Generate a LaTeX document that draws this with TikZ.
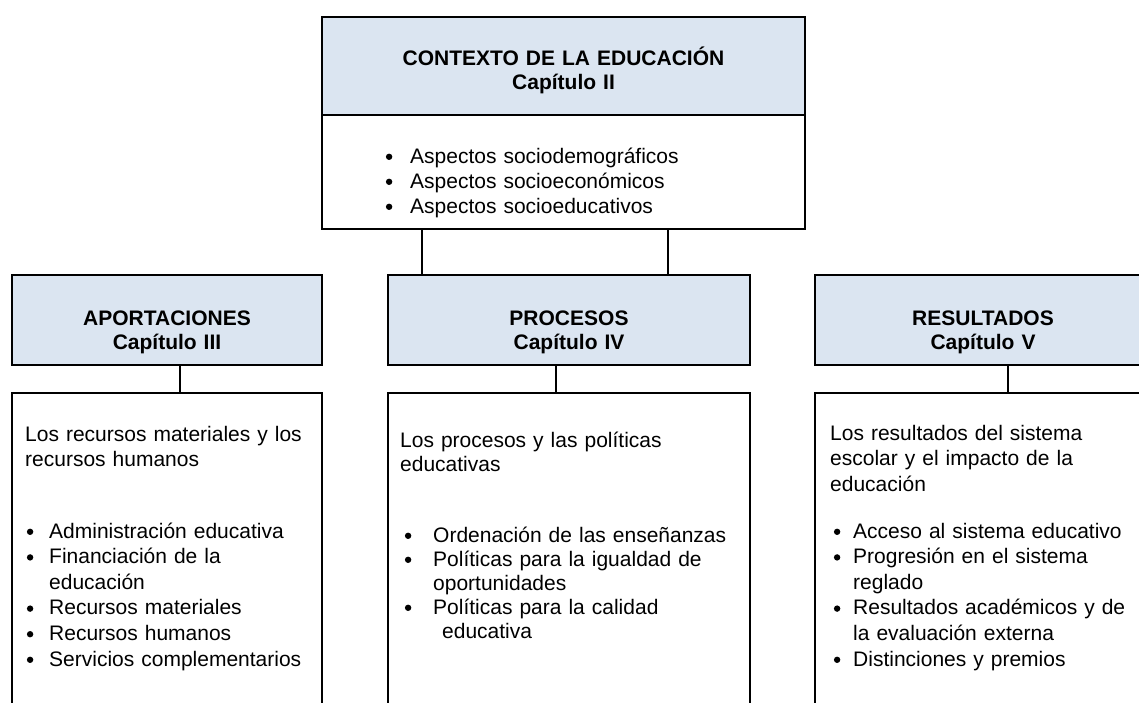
\documentclass[tikz,border=0pt]{standalone}
\usepackage{fontspec}
\setmainfont{Liberation Sans}
\usetikzlibrary{positioning}
\definecolor{hdblue}{HTML}{DBE5F1}
\newcommand{\bit}[2]{\makebox[#1][l]{\hspace{0.4pt}\tikz[baseline]\fill (3.3pt,6.2pt) circle (3.2pt);}#2}

\begin{document}
\begin{tikzpicture}[x=1pt, y=-1pt,
    hd/.style={draw, line width=1.8pt, outer sep=0, fill=hdblue, minimum height=90, anchor=north west},
    bd/.style={draw, line width=1.8pt, outer sep=0, minimum height=400},
    ln/.style={line width=1.2pt},
    ttl/.style={font=\fontsize{21}{24}\selectfont\bfseries, text width=470pt, align=center, inner sep=0, anchor=base},
    txt/.style={font=\fontsize{21}{25.6}\selectfont, text width=360pt, align=left, inner sep=0, anchor=base west}]
  \useasboundingbox (0,0) rectangle (1139,702);
  \clip (0,0) rectangle (1139,702);

  % contexto
  \node[hd, minimum width=483, minimum height=98] (h0) at (322,17) {};
  \node[bd, minimum width=483, minimum height=114, below=0 of h0] (b0) {};
  \node[ttl] (t0) at ([yshift=-48pt]h0.north) {CONTEXTO DE LA EDUCACIÓN\\Capítulo II};
  \node[txt, font=\fontsize{21}{25}\selectfont] (l0) at ([xshift=63.3pt, yshift=-48pt]b0.north west)
    {\bit{24.7pt}{Aspectos sociodemográficos}\\
     \bit{24.7pt}{Aspectos socioeconómicos}\\
     \bit{24.7pt}{Aspectos socioeducativos}};

  % three columns
  \foreach \i/\x/\w/\c in {1/12/310/168, 2/388/362/168, 3/815/336/193} {
    \node[hd, minimum width=\w] (h\i) at (\x,275) {};
    \node[bd, minimum width=\w, below=28pt of h\i] (b\i) {};
    \draw[ln] ([xshift=\c pt]h\i.south west) -- ([xshift=\c pt]b\i.north west);
  }
  \foreach \c in {100, 346}
    \draw[ln, line width=1.6pt] ([xshift=\c pt]b0.south west) -- ([xshift=\c pt]b0.south west |- h2.north);

  \node[ttl] (t1) at ([yshift=-50pt]h1.north) {APORTACIONES\\Capítulo III};
  \node[ttl] (t2) at ([yshift=-50pt]h2.north) {PROCESOS\\Capítulo IV};
  \node[ttl] (t3) at ([yshift=-50pt]h3.north) {RESULTADOS\\Capítulo V};

  \node[txt] (i1) at ([xshift=13pt, yshift=-48pt]b1.north west)
    {Los recursos materiales y los\\recursos humanos};
  \node[txt] (l1) at ([xshift=14.3pt, yshift=-145pt]b1.north west)
    {\bit{22.7pt}{Administración educativa}\\
     \bit{22.7pt}{Financiación de la}\\
     \hspace*{22.7pt}educación\\
     \bit{22.7pt}{Recursos materiales}\\
     \bit{22.7pt}{Recursos humanos}\\
     \bit{22.7pt}{Servicios complementarios}};

  \node[txt, font=\fontsize{21}{24}\selectfont] (i2) at ([xshift=12pt, yshift=-54pt]b2.north west)
    {Los procesos y las políticas\\educativas};
  \node[txt, font=\fontsize{21}{24}\selectfont] (l2) at ([xshift=16.3pt, yshift=-149pt]b2.north west)
    {\bit{28.7pt}{Ordenación de las enseñanzas}\\
     \bit{28.7pt}{Políticas para la igualdad de}\\
     \hspace*{28.7pt}oportunidades\\
     \bit{28.7pt}{Políticas para la calidad}\\
     \hspace*{37.7pt}educativa};

  \node[txt] (i3) at ([xshift=15pt, yshift=-47pt]b3.north west)
    {Los resultados del sistema\\escolar y el impacto de la\\educación};
  \node[txt] (l3) at ([xshift=18.3pt, yshift=-145pt]b3.north west)
    {\bit{19.7pt}{Acceso al sistema educativo}\\
     \bit{19.7pt}{Progresión en el sistema}\\
     \hspace*{19.7pt}reglado\\
     \bit{19.7pt}{Resultados académicos y de}\\
     \hspace*{19.7pt}la evaluación externa\\
     \bit{19.7pt}{Distinciones y premios}};
\end{tikzpicture}
\end{document}
